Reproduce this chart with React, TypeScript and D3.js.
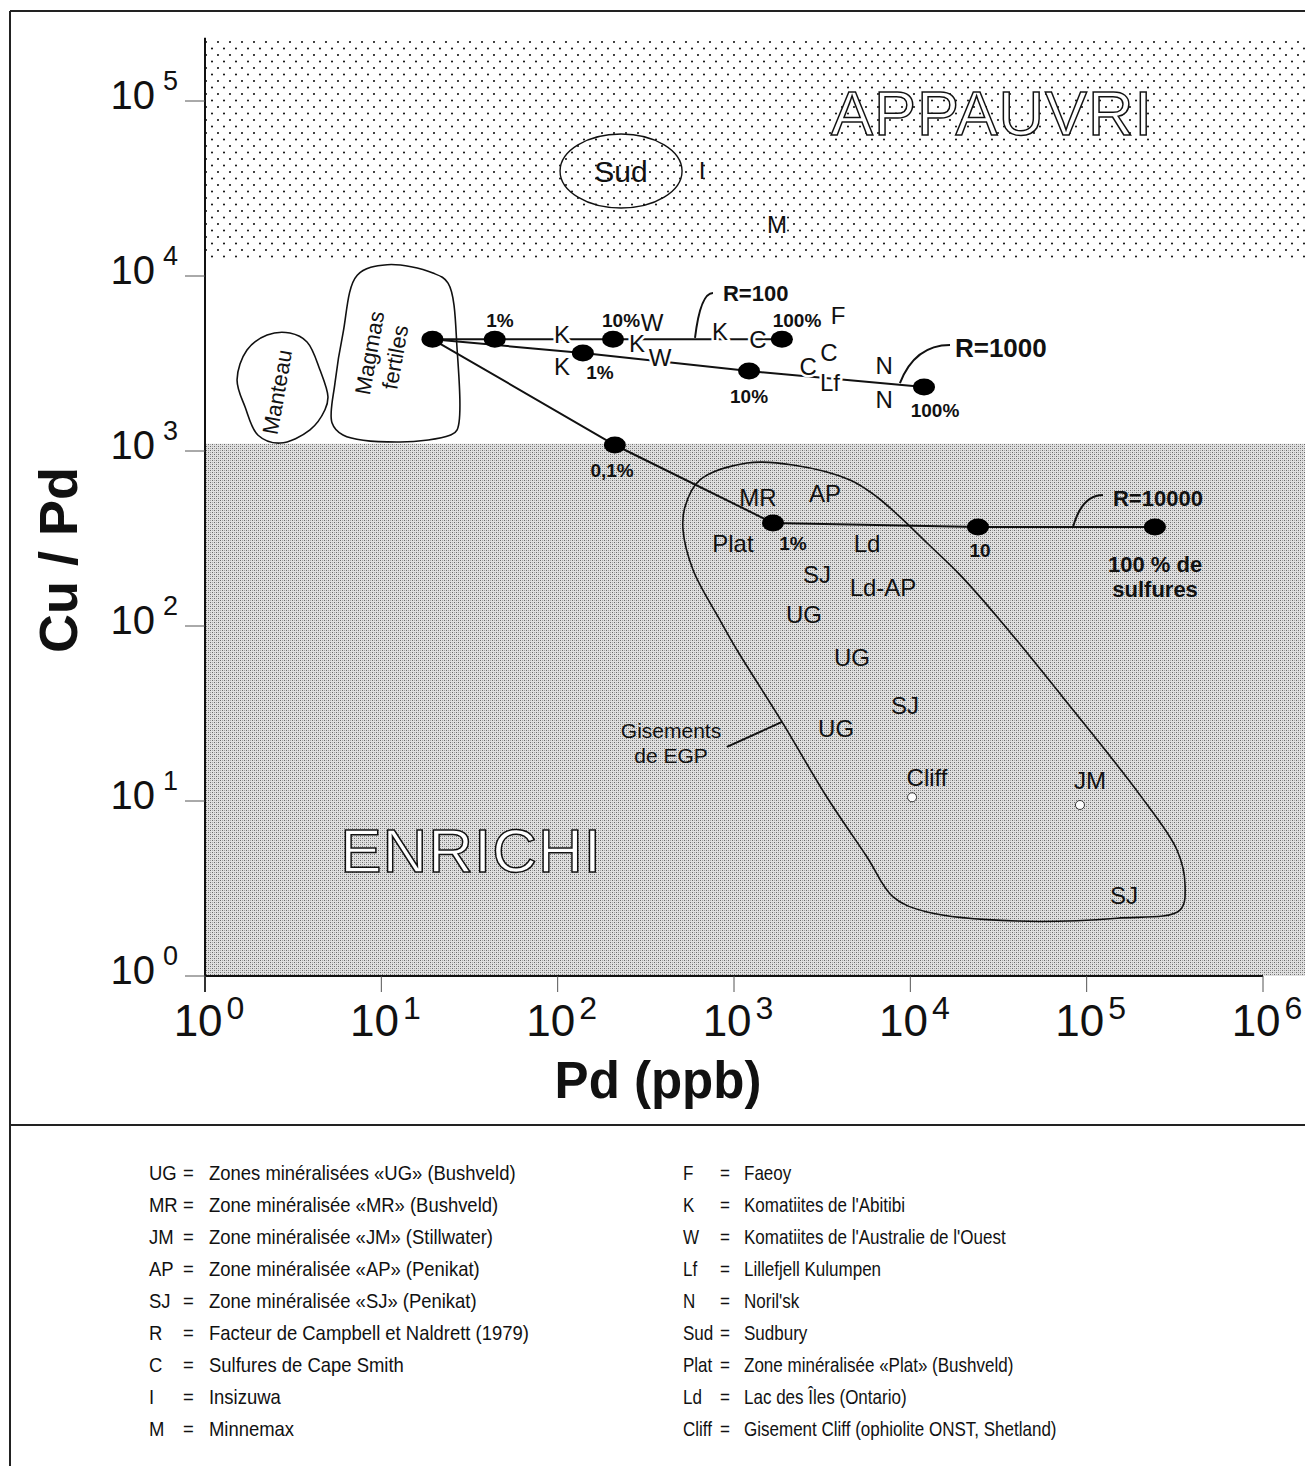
import React from 'react';
import * as d3 from 'd3';

const W = 1305;
const H = 1466;
const FONT = "'Liberation Sans', Arial, Helvetica, sans-serif";

// ---- axes ----
const xTicks = [1, 10, 100, 1000, 10000, 100000, 1000000];
const yTicks = [1, 10, 100, 1000, 10000, 100000];
const xTitle = 'Pd (ppb)';
const yTitle = 'Cu / Pd';

// ---- field limits (Cu/Pd) ----
const appauvriMin = 12600;
const enrichiMax = 1100;
const fieldXMax = 1.8e6;
const fieldYMax = 2.3e5;

// ---- mixing curves [Pd, Cu/Pd] ----
const curveR100: [number, number][] = [[19.5, 4350], [44, 4350], [206, 4350], [1870, 4350]];
const curveR1000: [number, number][] = [[19.5, 4350], [139, 3630], [1217, 2864], [11960, 2321]];
const curveR10000: [number, number][] = [[19.5, 4350], [211, 1082], [1664, 388], [24200, 368], [244000, 368]];

// ---- curve annotations ----
type Lbl = [string, number, number];
const pctLabels: Lbl[] = [
  ['1%', 47.1, 5600], ['10%', 228.8, 5600], ['100%', 2277, 5600],
  ['1%', 173.9, 2827], ['10%', 1217, 2061], ['100%', 13800, 1715],
  ['0,1%', 203.4, 778], ['1%', 2162, 298], ['10', 24830, 272],
];
const rLabels: [string, number, number, number][] = [
  // text, Pd at label start, Cu/Pd, font size
  ['R=100', 866, 7998, 22],
  ['R=1000', 17910, 3880, 26],
  ['R=10000', 141000, 539, 22],
];
const rLeaders: [number, number][][] = [
  [[760, 7998], [601, 4424]],
  [[16790, 4035], [8730, 2446]],
  [[123800, 560.5], [83700, 368]],
];
const sulfLines = ['100 % de', 'sulfures'];
const sulfPos: [number, number] = [244300, 225];

// ---- site labels on the curves (white band) ----
const siteLabelsBand: Lbl[] = [
  ['K', 105.8, 4665], ['W', 342.8, 5458], ['K', 281.8, 4140], ['K', 833, 4850],
  ['C', 1368, 4365], ['F', 3890, 5986],
  ['K', 105.8, 3060], ['W', 380.5, 3444], ['C', 3458, 3680], ['C', 2630, 3060],
  ['Lf', 3501, 2478], ['N', 7096, 3099], ['N', 7096, 1983],
];
// ---- deposits (enriched field) ----
const depositLabels: Lbl[] = [
  ['MR', 1368, 546], ['AP', 3281, 575], ['Plat', 986, 298], ['Ld', 5680, 298],
  ['SJ', 2958, 198], ['Ld-AP', 7000, 167], ['UG', 2495, 116], ['UG', 4670, 66.5],
  ['SJ', 9330, 35.4], ['UG', 3793, 26.1], ['Cliff', 12440, 13.7], ['JM', 104500, 13.2],
  ['SJ', 162900, 2.9],
];
const openPoints: [number, number][] = [[10230, 10.5], [91620, 9.49]];
// ---- depleted field ----
const sudCenter: [number, number] = [228.8, 39810];
const poorLabels: Lbl[] = [['I', 659, 40360], ['M', 1754, 19820]];

// ---- outlined fields ----
const manteauOutline: [number, number][] = [
  [3.03, 4720], [3.79, 4200], [4.49, 2900], [4.98, 2040], [4.79, 1720], [3.94, 1320],
  [2.66, 1110], [2.0, 1230], [1.69, 1780], [1.52, 2550], [1.73, 3780], [2.25, 4600],
];
const magmasOutline: [number, number][] = [
  [7.3, 10100], [10.8, 11600], [19.6, 10400], [23.9, 9100], [26.9, 3800], [26.9, 1320],
  [24.5, 1230], [12.8, 1125], [6.06, 1234], [5.25, 1450], [5.46, 2450], [6.06, 4700],
];
const egpOutline: [number, number][] = [
  [527, 479], [641, 683], [1186, 854], [2162, 832], [4550, 683], [6470, 546], [8730, 420],
  [12440, 298], [19140, 196], [32270, 108], [75400, 37.8], [200900, 10.8], [325300, 5.25],
  [361300, 3.31], [338100, 2.38], [148600, 2.14], [40270, 2.06], [12440, 2.32], [7980, 2.83],
  [5680, 4.79], [3367, 10.5], [1872, 28.3], [1040, 72.9], [833, 108], [586, 209], [514, 354],
];
const egpLeader: [number, number][] = [[912, 20.4], [1872, 28.3]];
const egpText = ['Gisements', 'de EGP'];
const egpTextPos: [number, number] = [439.5, 21.5];
const manteauText = 'Manteau';
const manteauPos: [number, number] = [2.56, 2173];
const magmasText = ['Magmas', 'fertiles'];
const magmasPos: [number, number] = [10.1, 3537];
const appauvriText = 'APPAUVRI';
const appauvriPos: [number, number] = [29040, 86500];
const enrichiText = 'ENRICHI';
const enrichiPos: [number, number] = [32.3, 5.25];

// ---- legend ----
const legLeftAbbr = ['UG', 'MR', 'JM', 'AP', 'SJ', 'R', 'C', 'I', 'M'];
const legLeftDesc = [
  'Zones minéralisées «UG» (Bushveld)',
  'Zone minéralisée «MR» (Bushveld)',
  'Zone minéralisée «JM» (Stillwater)',
  'Zone minéralisée «AP» (Penikat)',
  'Zone minéralisée «SJ» (Penikat)',
  'Facteur de Campbell et Naldrett (1979)',
  'Sulfures de Cape Smith',
  'Insizuwa',
  'Minnemax',
];
const legRightAbbr = ['F', 'K', 'W', 'Lf', 'N', 'Sud', 'Plat', 'Ld', 'Cliff'];
const legRightDesc = [
  'Faeoy',
  "Komatiites de l'Abitibi",
  "Komatiites de l'Australie de l'Ouest",
  'Lillefjell Kulumpen',
  "Noril'sk",
  'Sudbury',
  'Zone minéralisée «Plat» (Bushveld)',
  'Lac des Îles (Ontario)',
  'Gisement Cliff (ophiolite ONST, Shetland)',
];

export default function App() {
  const x = d3.scaleLog().domain([1, 1e6]).range([205, 1263]);
  const y = d3.scaleLog().domain([1, 1e5]).range([976, 101]);
  const line = d3.line<[number, number]>().x((d) => x(d[0])).y((d) => y(d[1]));
  const blob = d3
    .line<[number, number]>()
    .x((d) => x(d[0]))
    .y((d) => y(d[1]))
    .curve(d3.curveCatmullRomClosed.alpha(0.5));

  const plotTop = y(fieldYMax);
  const dots: [number, number][] = [];
  [curveR100, curveR1000, curveR10000].forEach((c) =>
    c.forEach((p) => {
      if (!dots.some((q) => q[0] === p[0] && q[1] === p[1])) dots.push(p);
    })
  );

  const halo = { stroke: '#fff', strokeWidth: 5, paintOrder: 'stroke' as const, strokeLinejoin: 'round' as const };

  const leaderPath = (seg: [number, number][]) => {
    const sx = x(seg[0][0]), sy = y(seg[0][1]);
    const ex = x(seg[1][0]), ey = y(seg[1][1]);
    const cx = ex + 0.3 * (sx - ex);
    return `M${sx},${sy} Q${cx},${sy} ${ex},${ey}`;
  };

  const legY0 = 1180;
  const legDy = 32;
  const legFs = 20.5;
  const sL = 0.9;
  const sR = 0.83;
  const lblFs = 24;

  return (
    <svg
      width={W}
      height={H}
      viewBox={`0 0 ${W} ${H}`}
      style={{ position: 'absolute', left: 0, top: 0, background: '#fff' }}
      fontFamily={FONT}
    >
      <defs>
        <pattern id="dots" width="12" height="13" patternUnits="userSpaceOnUse">
          <rect width="12" height="13" fill="#fff" />
          <circle cx="2" cy="3" r="1.05" fill="#111" />
          <circle cx="8" cy="9.5" r="1.05" fill="#111" />
        </pattern>
        <pattern id="dense" width="4" height="4" patternUnits="userSpaceOnUse">
          <rect width="4" height="4" fill="#e0e0e0" />
          <rect x="0" y="0" width="1" height="1" fill="#6a6a6a" />
          <rect x="2" y="2" width="1" height="1" fill="#6a6a6a" />
          <rect x="2" y="0" width="1" height="1" fill="#a8a8a8" />
          <rect x="0" y="2" width="1" height="1" fill="#a8a8a8" />
        </pattern>
      </defs>

      {/* outer frame */}
      <line x1={10} y1={11} x2={W} y2={11} stroke="#222" strokeWidth={2} />
      <line x1={10} y1={11} x2={10} y2={H} stroke="#222" strokeWidth={2} />
      <line x1={10} y1={1125} x2={W} y2={1125} stroke="#222" strokeWidth={2} />

      {/* fields */}
      <rect
        x={x(1)}
        y={plotTop}
        width={x(fieldXMax) - x(1)}
        height={y(appauvriMin) - plotTop}
        fill="url(#dots)"
      />
      <rect
        x={x(1)}
        y={y(enrichiMax)}
        width={x(fieldXMax) - x(1)}
        height={y(1) - y(enrichiMax)}
        fill="url(#dense)"
      />

      {/* field names */}
      <text
        x={x(appauvriPos[0])}
        y={y(appauvriPos[1])}
        dy="0.36em"
        textAnchor="middle"
        fontSize={63}
        fill="#fff"
        stroke="#111"
        strokeWidth={1.5}
        letterSpacing={1}
      >
        {appauvriText}
      </text>
      <text
        x={x(enrichiPos[0])}
        y={y(enrichiPos[1])}
        dy="0.36em"
        textAnchor="middle"
        fontSize={62}
        fill="#fff"
        stroke="#111"
        strokeWidth={1.5}
        letterSpacing={1}
      >
        {enrichiText}
      </text>

      {/* axes */}
      <line x1={x(1)} y1={plotTop} x2={x(1)} y2={y(1) + 16} stroke="#111" strokeWidth={2} />
      <line x1={x(1)} y1={y(1)} x2={x(1e6)} y2={y(1)} stroke="#111" strokeWidth={2} />
      {xTicks.map((t) => (
        <g key={'xt' + t}>
          <line x1={x(t)} y1={y(1)} x2={x(t)} y2={y(1) + 16} stroke="#555" strokeWidth={1} />
          <text x={x(t) + 4} y={1036} textAnchor="middle" fontSize={44} fill="#111">
            10
            <tspan dx={4} dy={-17} fontSize={32}>
              {Math.round(Math.log10(t))}
            </tspan>
          </text>
        </g>
      ))}
      {yTicks.map((t) => (
        <g key={'yt' + t}>
          <line x1={x(1) - 20} y1={y(t)} x2={x(1)} y2={y(t)} stroke="#555" strokeWidth={1} />
          <text x={178} y={y(t) + 8} textAnchor="end" fontSize={40} fill="#111">
            10
            <tspan dx={8} dy={-19} fontSize={27}>
              {Math.round(Math.log10(t))}
            </tspan>
          </text>
        </g>
      ))}
      <text x={658} y={1098} textAnchor="middle" fontSize={51} fontWeight="bold" fill="#111">
        {xTitle}
      </text>
      <text
        transform="translate(77,560) rotate(-90)"
        textAnchor="middle"
        fontSize={54}
        fontWeight="bold"
        fill="#111"
      >
        {yTitle}
      </text>

      {/* outlined fields */}
      <path d={blob(manteauOutline) || ''} fill="none" stroke="#111" strokeWidth={1.6} />
      <path d={blob(magmasOutline) || ''} fill="none" stroke="#111" strokeWidth={1.6} />
      <path d={blob(egpOutline) || ''} fill="none" stroke="#111" strokeWidth={1.6} />
      <ellipse
        cx={x(sudCenter[0])}
        cy={y(sudCenter[1])}
        rx={61}
        ry={37}
        fill="none"
        stroke="#111"
        strokeWidth={1.4}
      />
      <text x={x(sudCenter[0])} y={y(sudCenter[1])} dy="0.36em" textAnchor="middle" fontSize={30} fill="#111">
        Sud
      </text>
      {poorLabels.map(([t, a, b], i) => (
        <text key={'pl' + i} x={x(a)} y={y(b)} dy="0.36em" textAnchor="middle" fontSize={lblFs} fill="#111">
          {t}
        </text>
      ))}
      <text
        transform={`translate(${x(manteauPos[0])},${y(manteauPos[1])}) rotate(-80)`}
        dy="0.36em"
        textAnchor="middle"
        fontSize={22}
        fill="#111"
      >
        {manteauText}
      </text>
      <g transform={`translate(${x(magmasPos[0])},${y(magmasPos[1])}) rotate(-80)`}>
        {magmasText.map((t, i) => (
          <text key={'mg' + i} y={(i - 0.5) * 26} dy="0.36em" textAnchor="middle" fontSize={22} fill="#111">
            {t}
          </text>
        ))}
      </g>

      {/* mixing curves */}
      {[curveR100, curveR1000, curveR10000].map((c, i) => (
        <path key={'c' + i} d={line(c) || ''} fill="none" stroke="#111" strokeWidth={2} />
      ))}
      {rLeaders.map((s, i) => (
        <path key={'rl' + i} d={leaderPath(s)} fill="none" stroke="#111" strokeWidth={2} />
      ))}
      <path d={line(egpLeader) || ''} fill="none" stroke="#111" strokeWidth={2} />

      {/* labels in white band (break the curves) */}
      {siteLabelsBand.map(([t, a, b], i) => (
        <text key={'sb' + i} x={x(a)} y={y(b)} dy="0.36em" textAnchor="middle" fontSize={lblFs} fill="#111" {...halo}>
          {t}
        </text>
      ))}

      {/* points */}
      {dots.map((d, i) => (
        <ellipse key={'d' + i} cx={x(d[0])} cy={y(d[1])} rx={11} ry={8.5} fill="#000" />
      ))}
      {openPoints.map((d, i) => (
        <circle key={'o' + i} cx={x(d[0])} cy={y(d[1])} r={4.5} fill="#fff" stroke="#333" strokeWidth={1} />
      ))}

      {pctLabels.map(([t, a, b], i) => (
        <text key={'pc' + i} x={x(a)} y={y(b)} dy="0.36em" textAnchor="middle" fontSize={19} fontWeight="bold" fill="#111">
          {t}
        </text>
      ))}
      {rLabels.map(([t, a, b, fs], i) => (
        <text key={'rt' + i} x={x(a)} y={y(b)} dy="0.36em" textAnchor="start" fontSize={fs} fontWeight="bold" fill="#111">
          {t}
        </text>
      ))}
      {sulfLines.map((t, i) => (
        <text
          key={'sf' + i}
          x={x(sulfPos[0])}
          y={y(sulfPos[1]) + i * 25}
          dy="0.36em"
          textAnchor="middle"
          fontSize={22}
          fontWeight="bold"
          fill="#111"
        >
          {t}
        </text>
      ))}

      {depositLabels.map(([t, a, b], i) => (
        <text key={'dl' + i} x={x(a)} y={y(b)} dy="0.36em" textAnchor="middle" fontSize={lblFs} fill="#111">
          {t}
        </text>
      ))}
      {egpText.map((t, i) => (
        <text
          key={'eg' + i}
          x={x(egpTextPos[0])}
          y={y(egpTextPos[1]) + (i - 0.5) * 25}
          dy="0.36em"
          textAnchor="middle"
          fontSize={21}
          fill="#111"
        >
          {t}
        </text>
      ))}

      {/* legend */}
      <g transform={`translate(149,0) scale(${sL},1)`} fontSize={legFs} fill="#111">
        {legLeftAbbr.map((a, i) => (
          <g key={'ll' + i}>
            <text x={0} y={legY0 + i * legDy}>{a}</text>
            <text x={34 / sL} y={legY0 + i * legDy}>=</text>
            <text x={60 / sL} y={legY0 + i * legDy}>{legLeftDesc[i]}</text>
          </g>
        ))}
      </g>
      <g transform={`translate(683,0) scale(${sR},1)`} fontSize={legFs} fill="#111">
        {legRightAbbr.map((a, i) => (
          <g key={'lr' + i}>
            <text x={0} y={legY0 + i * legDy}>{a}</text>
            <text x={37 / sR} y={legY0 + i * legDy}>=</text>
            <text x={61 / sR} y={legY0 + i * legDy}>{legRightDesc[i]}</text>
          </g>
        ))}
      </g>
    </svg>
  );
}
